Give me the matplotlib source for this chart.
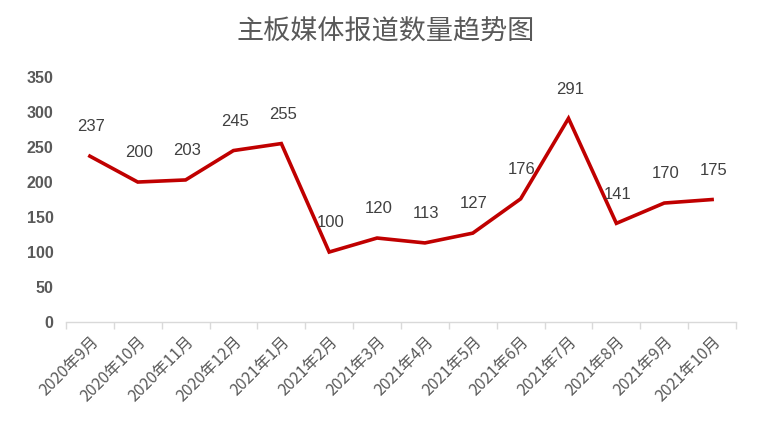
import matplotlib
matplotlib.use("Agg")
import matplotlib.pyplot as plt

plt.rcParams['font.family'] = ['Noto Sans CJK SC', 'DejaVu Sans']

months = ["2020年9月", "2020年10月", "2020年11月", "2020年12月", "2021年1月",
          "2021年2月", "2021年3月", "2021年4月", "2021年5月", "2021年6月",
          "2021年7月", "2021年8月", "2021年9月", "2021年10月"]
counts = [237, 200, 203, 245, 255, 100, 120, 113, 127, 176, 291, 141, 170, 175]
yticks = [0, 50, 100, 150, 200, 250, 300, 350]

fig = plt.figure(figsize=(7.58, 4.32), dpi=100)
ax = fig.add_axes([0.087, 0.2546, 0.884, 0.567])

x = list(range(len(months)))
ax.plot(x, counts, color="#C00000", linewidth=2.6, solid_joinstyle="miter")

for xi, v in zip(x, counts):
    ax.annotate(str(v), (xi, v), xytext=(1, 21), textcoords="offset points",
                ha="center", va="center", fontsize=12, color="#404040",
                fontweight="medium", family=["Liberation Sans", "DejaVu Sans"])

ax.set_xlim(-0.5, len(months) - 0.5)
ax.set_ylim(0, 350)
ax.set_yticks(yticks)
ax.set_yticklabels([str(t) for t in yticks], fontsize=11.5, fontweight="bold",
                   color="#595959", family=["Liberation Sans", "DejaVu Sans"])
ax.tick_params(axis="y", length=0, pad=9)

# ticks between categories, labels at category centres
ax.set_xticks([i - 0.5 for i in range(len(months) + 1)])
ax.set_xticklabels([])
ax.set_xticks(x, minor=True)
ax.set_xticklabels(months, minor=True, rotation=45, ha="right",
                   rotation_mode="anchor", fontsize=11.5, color="#595959")
ax.tick_params(axis="x", which="major", length=5, color="#D9D9D9", width=1)
ax.tick_params(axis="x", which="minor", length=0, pad=8)

for s in ["top", "right", "left"]:
    ax.spines[s].set_visible(False)
ax.spines["bottom"].set_color("#D9D9D9")
ax.spines["bottom"].set_linewidth(1)

fig.text(0.509, 0.926, "主板媒体报道数量趋势图", ha="center", va="center",
         fontsize=19.5, color="#595959", fontweight="medium")

fig.savefig("out.png", dpi=100)
